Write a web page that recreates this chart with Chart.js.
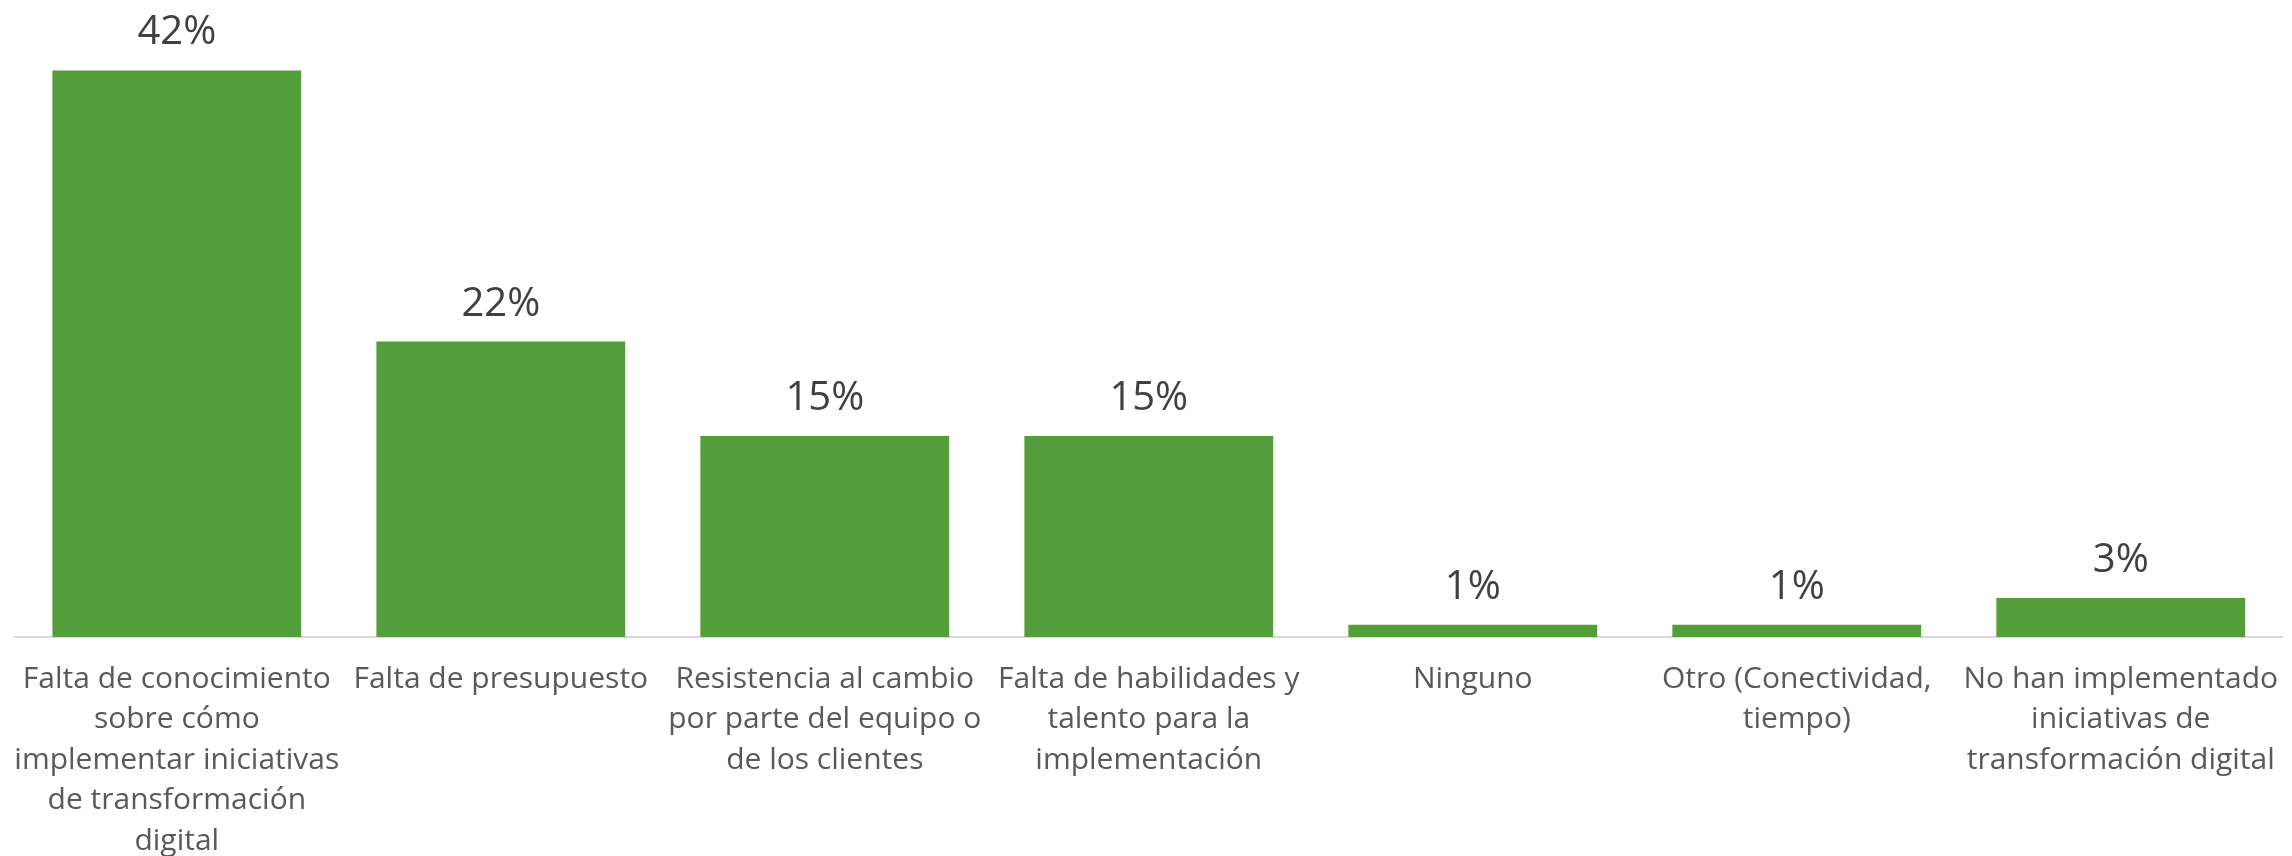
<!DOCTYPE html>
<html>
<head>
<meta charset="utf-8">
<script src="https://cdn.jsdelivr.net/npm/chart.js@4/dist/chart.umd.min.js"></script>
<style>
    html, body { margin: 0; padding: 0; background: #ffffff; }
    #wrap { width: 2292px; height: 856px; position: relative; }
</style>
</head>
<body>
<div id="wrap"><canvas id="barChart"></canvas></div>
<script>
const categories = [
    ['Falta de conocimiento', 'sobre cómo', 'implementar iniciativas', 'de transformación', 'digital'],
    ['Falta de presupuesto'],
    ['Resistencia al cambio', 'por parte del equipo o', 'de los clientes'],
    ['Falta de habilidades y', 'talento para la', 'implementación'],
    ['Ninguno'],
    ['Otro (Conectividad,', 'tiempo)'],
    ['No han implementado', 'iniciativas de', 'transformación digital']
];
const percentValues = [42, 21.9, 14.9, 14.9, 0.9, 0.9, 2.9];

const barColor = '#539E3A';
const fontFamily = '"Open Sans", "Noto Sans", sans-serif';

// draws the % labels above each bar
const valueLabels = {
    id: 'valueLabels',
    afterDatasetsDraw(chart) {
        const ctx = chart.ctx;
        const meta = chart.getDatasetMeta(0);
        ctx.save();
        ctx.font = '40px ' + fontFamily;
        ctx.fillStyle = '#404040';
        ctx.textAlign = 'center';
        ctx.textBaseline = 'alphabetic';
        meta.data.forEach(function (bar, i) {
            ctx.fillText(Math.round(percentValues[i]) + '%', bar.x, bar.y - 26);
        });
        ctx.restore();
    }
};

const ctx = document.getElementById('barChart').getContext('2d');
new Chart(ctx, {
    type: 'bar',
    data: {
        labels: categories,
        datasets: [{
            data: percentValues,
            backgroundColor: barColor,
            borderWidth: 0,
            categoryPercentage: 1,
            barPercentage: 0.768
        }]
    },
    options: {
        responsive: true,
        maintainAspectRatio: false,
        animation: false,
        layout: { padding: { left: 11, right: 3, top: 30, bottom: 0 } },
        plugins: {
            legend: { display: false },
            tooltip: { enabled: false }
        },
        scales: {
            x: {
                grid: { display: false },
                border: { display: true, color: '#D9D9D9', width: 2 },
                ticks: {
                    color: '#595959',
                    padding: 14,
                    maxRotation: 0,
                    autoSkip: false,
                    font: { family: fontFamily, size: 30, lineHeight: 1.35 }
                },
                afterFit: function (scale) { scale.height = 219; }
            },
            y: {
                display: false,
                min: 0,
                max: 45
            }
        }
    },
    plugins: [valueLabels]
});
</script>
</body>
</html>
